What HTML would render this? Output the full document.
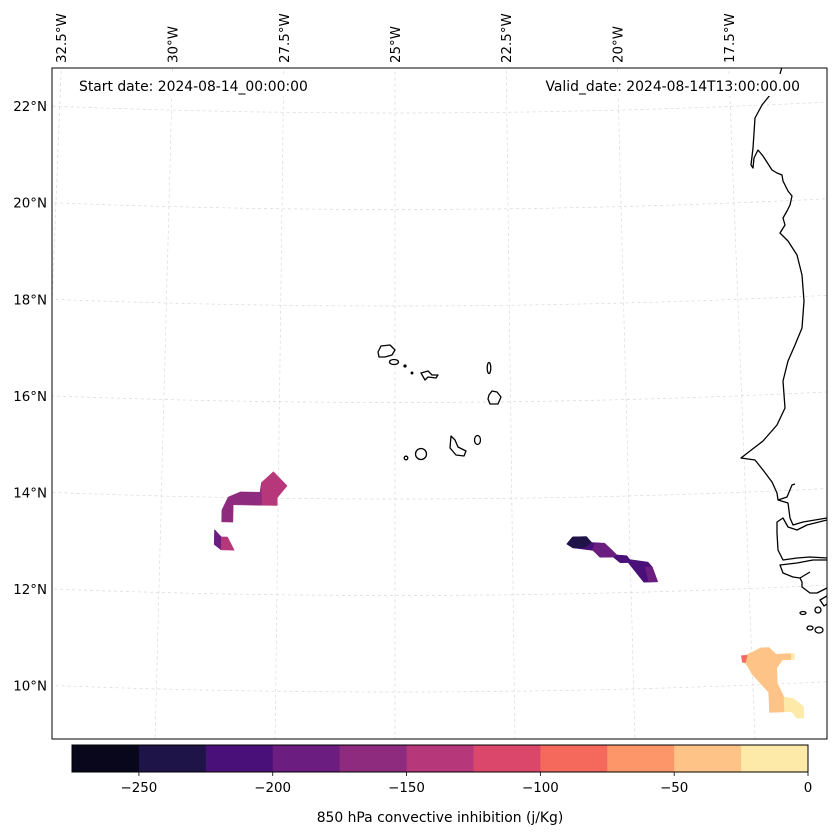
<!DOCTYPE html>
<html><head><meta charset="utf-8"><style>
html,body{margin:0;padding:0;background:#fff;}
svg{display:block;font-family:"DejaVu Sans","Liberation Sans",sans-serif;}
</style></head><body>
<svg id="chart" width="837" height="836" viewBox="0 0 837 836" xmlns="http://www.w3.org/2000/svg">
<defs><clipPath id="mapclip"><rect x="52" y="68" width="775" height="671"/></clipPath></defs>
<rect x="0" y="0" width="837" height="836" fill="#fff"/>
<g id="grid" clip-path="url(#mapclip)"></g>
<g id="patches" clip-path="url(#mapclip)"></g>
<g clip-path="url(#mapclip)" fill="none" stroke="#000" stroke-width="1.3" stroke-linejoin="round">
<path d="M781.7,68 L780,74 M770,95 L762,105 L755,118 L753,148 L751,165 L753,168 L754,158 L758,150 L763,156 L772,170 L777,173 L782,175 L783,181 L788,191 L792,196 L790,205 L787,211 L783,218 L785,225 L780,233 L788,241 L797,255 L802,275 L804,301 L802,328 L795,345 L788,361 L783,381 L785,408 L777,425 L763,441 L750,451 L741,458 L755,460 L763,470 L772,482 L777,493 L778,500 L787,497 L792,485 L795,484 M778,500 L788,503 L790,518 L793,525 L803,522 L827,518 M827,520 L807,525 L797,530 L788,527 L783,518 L777,522 L777,533 L778,550 L783,560 L797,558 L810,557 L827,558 M827,560 L813,560 L797,563 L780,565 L783,573 L793,577 L800,578 L810,572 M800,578 L802,582 L802,587 L810,593 L817,593 L823,590 L827,588 M827,596 L820,600 L824,606 L827,604"/>
<ellipse cx="803" cy="613" rx="3" ry="1.5"/><ellipse cx="818" cy="610" rx="3" ry="3"/><ellipse cx="810" cy="628" rx="3" ry="2"/><ellipse cx="819" cy="630" rx="4" ry="3"/>
<path d="M378,352 L381,346 L390,345 L395,350 L392,355 L385,357 L379,357 Z"/>
<ellipse cx="394" cy="362" rx="4.5" ry="2.5"/>
<circle cx="405" cy="366" r="1" fill="#000"/><circle cx="412" cy="373" r="0.8" fill="#000"/>
<path d="M421,373 L428,371 L432,375 L438,375 L436,378 L428,377 L425,380 Z"/>
<ellipse cx="489" cy="368" rx="1.8" ry="5.5"/>
<path d="M489,395 L492,391 L497,392 L501,397 L498,404 L490,404 L488,399 Z"/>
<ellipse cx="477.5" cy="440" rx="3" ry="4.5"/>
<path d="M451,436 L455,440 L458,447 L466,451 L464,456 L456,455 L450,448 Z"/>
<ellipse cx="421" cy="454" rx="5.5" ry="5.5"/>
<circle cx="406" cy="458" r="1.8"/>
</g>
<rect x="75" y="74" width="240" height="22" fill="#fff"/>
<rect x="540" y="74" width="264" height="22" fill="#fff"/>
<text x="79" y="91" font-size="13.9">Start date: 2024-08-14_00:00:00</text>
<text x="800" y="91" font-size="13.9" text-anchor="end">Valid_date: 2024-08-14T13:00:00.00</text>
<rect x="52" y="68" width="775" height="671" fill="none" stroke="#000" stroke-width="1"/>
<g id="latlabels"></g>
<g id="lonlabels"></g>
<g id="colorbar"></g>
<text x="440" y="822" font-size="13.9" text-anchor="middle">850 hPa convective inhibition (j/Kg)</text>
</svg>
<script>
const levels=[-275,-250,-225,-200,-175,-150,-125,-100,-75,-50,-25,0];
const binColors=["#08071c","#1f1447","#4a1079","#6c1d80","#8e2b7e","#b6377a","#db476a","#f4695c","#fd9668","#fec387","#fde9a8"];
const cbTicks=[-250,-200,-150,-100,-50,0];
const gridLats=[10,12,14,16,18,20,22];
const gridLons=[-32.5,-30,-27.5,-25,-22.5,-20,-17.5];
const patchValues=[-160,-140,-185,-140,-210,-235,-190,-190,-40,-90,-10,-10];
const patchLons=[
[-27.865,-27.84,-28.46,-28.46,-28.70,-28.70,-28.57,-28.31,-27.89],
[-27.865,-27.61,-27.31,-27.52,-27.52,-27.84],
[-28.85,-28.70,-28.70,-28.85],
[-28.70,-28.57,-28.42,-28.70],
[-21.344,-21.217,-20.919,-20.813,-20.536,-20.281,-20.069,-20.005,-19.622,-19.537,-19.431,-19.728,-20.047,-20.217,-20.366,-20.643,-20.791,-21.217],
[-21.344,-21.217,-20.919,-20.813,-20.962,-21.217],
[-20.749,-20.536,-20.281,-20.366,-20.643,-20.791],
[-19.686,-19.537,-19.431,-19.622],
[-17.679,-17.301,-17.134,-16.987,-16.673,-16.673,-16.861,-16.987,-16.987,-16.861,-16.861,-17.176,-17.176,-17.511,-17.595,-17.679],
[-17.720,-17.595,-17.637,-17.700],
[-16.673,-16.609,-16.609,-16.673],
[-16.861,-16.673,-16.463,-16.463,-16.609,-16.714,-16.861]
];
const patchLats=[
[14.32,13.85,13.85,13.49,13.49,13.74,14.01,14.12,14.12],
[14.32,14.55,14.26,14.01,13.85,13.85],
[13.33,13.18,12.91,13.02],
[13.18,13.18,12.91,12.91],
[13.034,13.179,13.179,13.054,13.034,12.785,12.764,12.681,12.619,12.515,12.205,12.205,12.619,12.619,12.744,12.744,12.889,12.951],
[13.034,13.179,13.179,13.054,12.951,12.951],
[13.034,13.034,12.785,12.744,12.744,12.889],
[12.515,12.515,12.205,12.205],
[10.598,10.764,10.764,10.619,10.619,10.495,10.495,10.329,10.018,9.728,9.417,9.417,9.831,10.225,10.391,10.495],
[10.619,10.619,10.474,10.474],
[10.619,10.619,10.495,10.495],
[9.728,9.686,9.520,9.272,9.272,9.417,9.417]
];
const NS="http://www.w3.org/2000/svg";
const X0=395,APEX=-8463,R10=9155,RPL=48.25,K=0.005214;
function proj(lon,lat){const r=R10-(lat-10)*RPL;const th=(lon+25)*K;return [X0+r*Math.sin(th),APEX+r*Math.cos(th)];}
function colorFor(v){for(let i=0;i<binColors.length;i++){if(v>=levels[i]&&v<levels[i+1])return binColors[i];}return binColors[binColors.length-1];}
function mk(tag,attrs,parent){const e=document.createElementNS(NS,tag);for(const k in attrs)e.setAttribute(k,attrs[k]);parent.appendChild(e);return e;}
const grid=document.getElementById('grid');
gridLats.forEach(lat=>{let d="";for(let lon=-34;lon<=-15;lon+=0.25){const p=proj(lon,lat);d+=(d?"L":"M")+p[0].toFixed(1)+","+p[1].toFixed(1);}
const e=mk('path',{d:d,fill:'none',stroke:'#d8d8d8','stroke-width':0.7,'stroke-dasharray':'3,3'},grid);

});
gridLons.forEach(lon=>{let d="";for(let lat=8;lat<=24;lat+=0.5){const p=proj(lon,lat);d+=(d?"L":"M")+p[0].toFixed(1)+","+p[1].toFixed(1);}
const e=mk('path',{d:d,fill:'none',stroke:'#d8d8d8','stroke-width':0.7,'stroke-dasharray':'3,3'},grid);

});
const pg=document.getElementById('patches');
patchValues.forEach((v,i)=>{const pts=patchLons[i].map((lo,j)=>proj(lo,patchLats[i][j]).map(n=>n.toFixed(1)).join(",")).join(" ");
const c=colorFor(v);const e=mk('polygon',{points:pts,fill:c,stroke:c,'stroke-width':0.5},pg);

});
const ll=document.getElementById('latlabels');
gridLats.forEach(lat=>{const r=R10-(lat-10)*RPL;const dx=52-X0;const y=APEX+Math.sqrt(r*r-dx*dx);
const t=mk('text',{x:47,y:(y+5).toFixed(1),'font-size':13.4,'text-anchor':'end'},ll);t.textContent=lat+"°N";

});
const lol=document.getElementById('lonlabels');
gridLons.forEach(lon=>{const th=(lon+25)*K;const x=X0+(68-APEX)*Math.tan(th);
const t=mk('text',{x:0,y:0,'font-size':13.4,'text-anchor':'start',transform:`translate(${(x+5).toFixed(1)},63) rotate(-90)`},lol);
t.textContent=Math.abs(lon)+"°W";

});
const cb=document.getElementById('colorbar');
const cbX0=72,cbX1=808,cbY=745,cbH=27;
function cbx(v){return cbX0+(v-levels[0])/(levels[levels.length-1]-levels[0])*(cbX1-cbX0);}
binColors.forEach((c,i)=>{const x0=cbx(levels[i]),x1=cbx(levels[i+1]);
const r=mk('rect',{x:x0.toFixed(2),y:cbY,width:(x1-x0+0.4).toFixed(2),height:cbH,fill:c},cb);

});
mk('rect',{x:cbX0,y:cbY,width:cbX1-cbX0,height:cbH,fill:'none',stroke:'#000','stroke-width':1},cb);
cbTicks.forEach(v=>{const x=cbx(v);mk('line',{x1:x,x2:x,y1:cbY+cbH,y2:cbY+cbH+4,stroke:'#000','stroke-width':0.8},cb);
const t=mk('text',{x:x.toFixed(1),y:792,'font-size':13.4,'text-anchor':'middle'},cb);t.textContent=(v<0?"\u2212"+Math.abs(v):String(v));

});
</script>
</body></html>
